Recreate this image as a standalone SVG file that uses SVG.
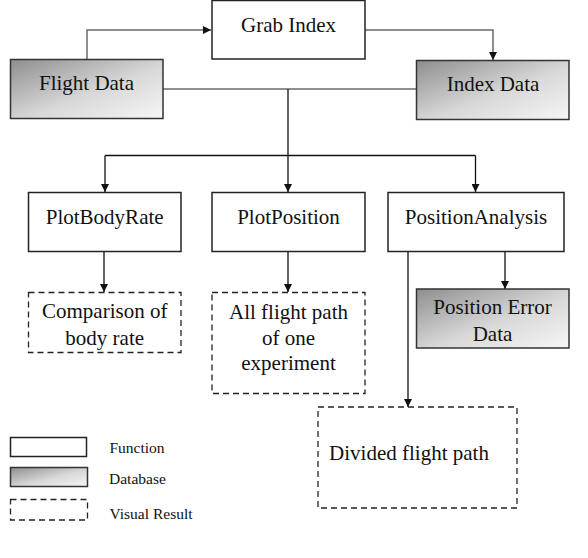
<svg xmlns="http://www.w3.org/2000/svg" width="588" height="558" viewBox="0 0 588 558">
<style>
.fn{fill:#fff;stroke:#222;stroke-width:1.5}
.db{fill:url(#g);stroke:#333;stroke-width:1.5}
.vr{fill:#fff;stroke:#222;stroke-width:1.3;stroke-dasharray:6 4}
.c{fill:none;stroke:#111;stroke-width:1.3}
.cg{fill:none;stroke:#6a6a6a;stroke-width:1.5}
</style>
<defs>
<linearGradient id="g" x1="0" y1="0" x2="1" y2="1">
<stop offset="0" stop-color="#8e8e8e"/>
<stop offset="0.55" stop-color="#d8d8d8"/>
<stop offset="1" stop-color="#f6f6f6"/>
</linearGradient>
<marker id="a" viewBox="0 0 10 10" refX="10" refY="5" markerWidth="8" markerHeight="8" markerUnits="userSpaceOnUse" orient="auto">
<path d="M0,0 L10,5 L0,10 z" fill="#111"/>
</marker>
</defs>
<rect width="588" height="558" fill="#fff"/>
<g id="connectors">
<path class="cg" d="M87,59 V30 H211" marker-end="url(#a)"/>
<path class="cg" d="M365,30 H493 V60" marker-end="url(#a)"/>
<path class="cg" d="M163,89 H416"/>
<path class="c" d="M288,89 V192" marker-end="url(#a)"/>
<path class="c" d="M105,155.5 H475.5"/>
<path class="c" d="M105,155.5 V192" marker-end="url(#a)"/>
<path class="c" d="M475.5,155.5 V192" marker-end="url(#a)"/>
<path class="c" d="M104,252 V292" marker-end="url(#a)"/>
<path class="c" d="M288,252 V292" marker-end="url(#a)"/>
<path class="c" d="M505,252 V289" marker-end="url(#a)"/>
<path class="c" d="M408,252 V407" marker-end="url(#a)"/>
</g>
<g font-family="Liberation Serif" font-size="21" text-anchor="middle" fill="#111">
<g id="grab-index"><rect class="fn" x="212" y="0.5" width="153" height="58.5"/><text x="288.5" y="32">Grab Index</text></g>
<g id="flight-data"><rect class="db" x="10.5" y="59.5" width="152.5" height="59"/><text x="86.5" y="90">Flight Data</text></g>
<g id="index-data"><rect class="db" x="416.5" y="60.5" width="152.5" height="59"/><text x="493" y="91">Index Data</text></g>
<g id="plot-body-rate"><rect class="fn" x="28.5" y="192.5" width="152.5" height="59"/><text x="104.7" y="224">PlotBodyRate</text></g>
<g id="plot-position"><rect class="fn" x="212" y="192.5" width="153" height="59"/><text x="288.5" y="224">PlotPosition</text></g>
<g id="position-analysis"><rect class="fn" x="388" y="192.5" width="176" height="59"/><text x="476" y="224">PositionAnalysis</text></g>
<g id="comparison"><rect class="vr" x="28.5" y="292.5" width="152.5" height="60"/><text x="104.7" y="318">Comparison of</text><text x="104.7" y="344.5">body rate</text></g>
<g id="all-flight-path"><rect class="vr" x="212" y="292.5" width="153" height="101"/><text x="288.5" y="318.5">All flight path</text><text x="288.5" y="344.5">of one</text><text x="288.5" y="369.5">experiment</text></g>
<g id="position-error-data"><rect class="db" x="416.5" y="289" width="152.5" height="59"/><text x="492.5" y="314">Position Error</text><text x="492.5" y="340.5">Data</text></g>
<g id="divided-flight-path"><rect class="vr" x="318" y="407" width="199" height="101"/><text x="409" y="460">Divided flight path</text></g>
</g>
<g id="legend" font-family="Liberation Serif" font-size="15.5" fill="#111">
<rect class="fn" x="10.5" y="437.5" width="76" height="19"/><text x="109.5" y="452.5">Function</text>
<rect class="db" x="10.5" y="467.5" width="77" height="19"/><text x="109" y="483.5">Database</text>
<rect class="vr" x="10.5" y="499.5" width="77" height="20.5"/><text x="109.5" y="518.5">Visual Result</text>
</g>
</svg>
